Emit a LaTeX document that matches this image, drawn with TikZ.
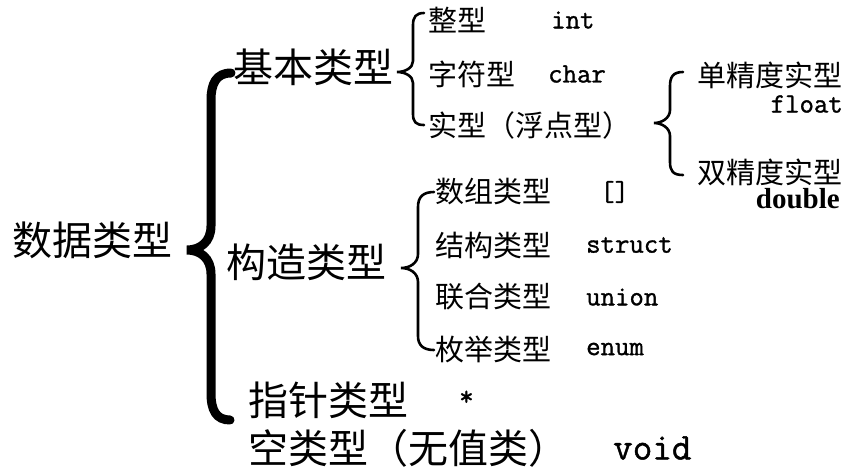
\documentclass[tikz,border=0pt]{standalone}
\usepackage{fontspec}
\setmainfont{Liberation Serif}
\newfontfamily\codefont[FakeBold=1.2]{Latin Modern Mono}
\newfontfamily\cjk{Noto Sans CJK SC}
\usetikzlibrary{positioning}

\tikzset{
  bigtext/.style={anchor=west, inner sep=0pt, font=\cjk\fontsize{40}{40}\selectfont},
  smalltext/.style={anchor=west, inner sep=0pt, font=\cjk\fontsize{29}{29}\selectfont},
  code/.style={anchor=west, inner sep=0pt, font=\codefont\fontsize{28}{28}\selectfont},
  bigbrace/.style={line width=9pt, line cap=round},
  smallbrace/.style={line width=2.6pt, line cap=round},
}

\begin{document}
\begin{tikzpicture}[x=1pt, y=-1pt]
     \useasboundingbox (0,0) rectangle (861,475);

     % first level
     \node[bigtext] (data) at (12,240) {数据类型};
     \node[bigtext] (basic) at (233,67) {基本类型};
     \node[bigtext] (construct) at (226,262) {构造类型};
     \node[bigtext] (pointer) at (248,400) {指针类型};
     \node[bigtext] (empty) at (248,448) {空类型（无值类）};
     \node[code] (star) at (459,398) {*};
     \node[code, font=\codefont\fontsize{38}{38}\selectfont] (void) at (613,448) {void};

     % basic types
     \node[smalltext] (int) at (428,20) {整型};
     \node[smalltext] (char) at (428,74) {字符型};
     \node[smalltext] (real) at (428,125) {实型（浮点型）};
     \node[code] (intkw) at (551,20) {int};
     \node[code] (charkw) at (548,74) {char};

     % real types
     \node[smalltext, anchor=east] (single) at (843,75) {单精度实型};
     \node[code, anchor=east] (floatkw) at (843,104) {float};
     \node[smalltext, anchor=east] (doubl) at (843,172) {双精度实型};
     \node[anchor=east, inner sep=0pt, font=\bfseries\fontsize{29}{29}\selectfont] (doublekw) at (840,199) {double};

     % constructed types
     \node[smalltext] (array) at (435,192) {数组类型};
     \node[smalltext] (struct) at (435,245) {结构类型};
     \node[smalltext] (union) at (435,297) {联合类型};
     \node[smalltext] (enum) at (435,349) {枚举类型};
     \node[code] (arraykw) at (600,192) {[]};
     \node[code] (structkw) at (586,245) {struct};
     \node[code] (unionkw) at (586,297) {union};
     \node[code] (enumkw) at (586,349) {enum};

     % braces
     \draw[bigbrace] (231,73) .. controls (216,73) and (211,84) .. (211,100) -- (211,226)
          .. controls (211,242) and (200,250) .. (187,250)
          .. controls (200,250) and (211,258) .. (211,274) -- (211,393)
          .. controls (211,410) and (216,420) .. (230,420);
     \draw[smallbrace] (424,13) .. controls (416,13) and (413,17) .. (413,25) -- (413,61)
          .. controls (413,68) and (405,72) .. (397,72)
          .. controls (405,72) and (413,76) .. (413,83) -- (413,114)
          .. controls (413,122) and (416,125) .. (424,125);
     \draw[smallbrace] (683,72) .. controls (673,72) and (670,77) .. (670,86) -- (670,110)
          .. controls (670,118) and (662,123) .. (654,123)
          .. controls (662,123) and (670,128) .. (670,136) -- (670,162)
          .. controls (670,171) and (673,175) .. (683,175);
     \draw[smallbrace] (434,192) .. controls (423,192) and (418,197) .. (418,207) -- (418,254)
          .. controls (418,263) and (410,268) .. (401,268)
          .. controls (410,268) and (418,273) .. (418,282) -- (418,336)
          .. controls (418,345) and (423,350) .. (434,350);

  \end{tikzpicture}
\end{document}
